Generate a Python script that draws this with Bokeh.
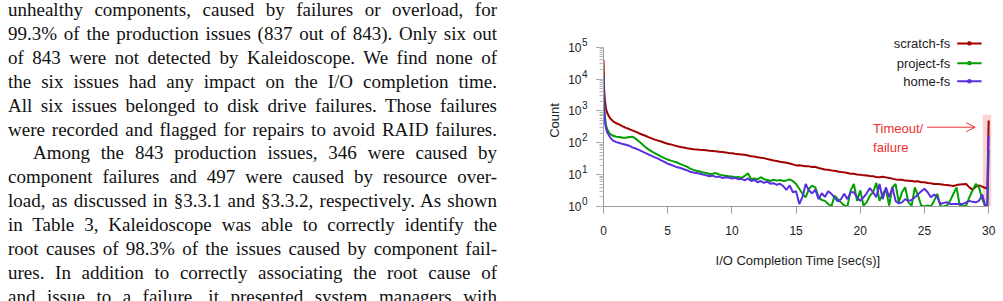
from bokeh.plotting import figure
from bokeh.models import (Range1d, FixedTicker, LogTicker, CustomJSTickFormatter,
                          Arrow, OpenHead, Div, LogAxis)
from bokeh.layouts import row
from bokeh.embed import file_html
from bokeh.resources import INLINE
from bokeh.core.properties import value

# ---------------- data ----------------
TIME = [0, 0.05, 0.1, 0.2, 0.3, 0.5] + [round(0.75 + 0.25 * i, 2) for i in range(117)] + [29.9, 30.0]

SCRATCH = [40000, 4900, 2400, 1150, 850, 600,
           470,
           410, 370, 330, 295,
           270, 245, 224, 200,
           182, 166, 151, 138,
           126, 117, 110, 100,
           93, 89, 83, 78,
           74, 71, 67, 65,
           63, 62, 60, 59,
           58, 56, 55, 54,
           52, 51, 50, 48,
           47, 45, 44, 43,
           42, 40, 38, 37,
           35, 34, 33, 31,
           29.5, 28, 27, 25.5,
           24.5, 23.5, 22.4, 21,
           19.5, 19.8, 19, 18.4,
           18.2, 17.5, 17.6, 16.2,
           15.3, 14.6, 14.3, 13.6,
           13.3, 12.6, 12.1, 11.8,
           11.2, 10.6, 10.6, 10.1,
           10.0, 9.5, 9.4, 9.0,
           8.9, 8.5, 8.3, 8.6,
           8.2, 7.8, 7.5, 7.1,
           6.9, 6.9, 6.5, 6.4,
           6.3, 6.1, 6.2, 5.8,
           5.8, 5.5, 5.4, 5.1,
           5.1, 5.0, 4.8, 4.7,
           4.6, 4.4, 4.7, 4.9,
           5.0, 5.1, 4.0, 3.4,
           4.2, 4.6, 4.2, 3.8,
           3.7, 500]

PROJECT = [11200, 2500, 710, 347, 263, 190,
           166,
           155, 151, 145, 144,
           151, 155, 135, 112,
           91, 74, 62, 54,
           47, 42, 37, 33,
           30, 27.5, 25.7, 24,
           21.4, 19.5, 17.8, 15.5,
           14.1, 13.2, 12.6, 11.7,
           11.2, 10.5, 10.7, 11.2,
           10.2, 9.5, 9.3, 8.9,
           8.7, 8.3, 8.5, 7.9,
           9.1, 11, 7.2, 7.6,
           7.1, 8.3, 7.2, 6.8,
           6.3, 6.9, 6.5, 6.8,
           6.3, 6.6, 7.1, 6.3,
           5.1, 3.6, 2.5, 1.95,
           3.6, 4.5, 4.0, 1.95,
           1.6, 1.5, 1.2, 1,
           2.2, 1.7, 1.35, 1.07,
           1, 3.2, 5.1, 1.5,
           3.2, 1.07, 1.35, 2.2,
           2.8, 5.5, 1.5, 2.5,
           3.5, 1.07, 4.0, 5.1,
           1.35, 2.8, 4.0, 1.35,
           1.07, 4.0, 2.2, 1.07,
           1, 1.07, 1, 1.5,
           2.5, 1, 1, 1.07,
           1.5, 2.5, 4.0, 1.07,
           1, 1.07, 1.95, 3.2,
           5.1, 4.0, 1.7, 1,
           1, 60]

HOME = [12600, 1150, 500, 275, 209, 151,
        117,
        105, 98, 91, 87,
        81, 72, 66, 60,
        54, 48, 43, 39,
        35, 32, 28, 25,
        22, 20.4, 18.6, 17,
        16.2, 14.8, 13.8, 12.3,
        11.7, 11.2, 10.7, 10,
        9.5, 8.9, 9.3, 8.5,
        8.7, 7.9, 8.3, 8.1,
        7.6, 7.9, 7.2, 7.4,
        6.6, 7.6, 6.3, 6.8,
        5.8, 6.3, 5.5, 6.0,
        5.2, 5.4, 4.8, 5.2,
        4.4, 3.3, 4.6, 2.8,
        3.0, 1.2, 2.0, 5.1,
        3.2, 2.6, 3.4, 1.7,
        2.6, 2.0, 3.0, 2.5,
        1.9, 1.45, 1.7, 2.5,
        1.7, 2.8, 2.8, 1.95,
        1.5, 1.95, 2.6, 3.8,
        2.8, 1.95, 5.1, 1.7,
        4.0, 1.95, 4.0, 1.5,
        1.25, 1.35, 1.7, 1.5,
        1.6, 1.95, 2.4, 3.0,
        3.6, 2.8, 1.95, 2.4,
        1.95, 1.2, 1.3, 1.35,
        1.2, 1.2, 1.2, 1.2,
        1.2, 1.35, 1.5, 1.4,
        1.35, 1.5, 2.4, 1,
        1, 170]

SERIES_NAMES = ["scratch-fs", "project-fs", "home-fs"]
SERIES_COLORS = ["#a00000", "#00a000", "#5a2fe0"]
X_TICKS = [0, 5, 10, 15, 20, 25, 30]
TIMEOUT_BAND = (29.55, 30.2, 1, 760)   # left, right, bottom, top
ANNOT_TEXT = ["Timeout/", "failure"]

TEXT_LINES = [
    "unhealthy components, caused by failures or overload, for",
    "99.3% of the production issues (837 out of 843). Only six out",
    "of 843 were not detected by Kaleidoscope. We find none of",
    "the six issues had any impact on the I/O completion time.",
    "All six issues belonged to disk drive failures. Those failures",
    "were recorded and flagged for repairs to avoid RAID failures.",
    "Among the 843 production issues, 346 were caused by",
    "component failures and 497 were caused by resource over-",
    "load, as discussed in &sect;3.3.1 and &sect;3.3.2, respectively. As shown",
    "in Table 3, Kaleidoscope was able to correctly identify the",
    "root causes of 98.3% of the issues caused by component fail-",
    "ures. In addition to correctly associating the root cause of",
    "and issue to a failure, it presented system managers with",
]

# ---------------- text column ----------------
parts = []
for i, ln in enumerate(TEXT_LINES):
    indent = "text-indent:25px;" if i == 6 else ""
    parts.append(f'<div style="text-align:justify;text-align-last:justify;{indent}">{ln}</div>')
html = ('<div style="font-family:\'Liberation Serif\',serif;font-size:19px;line-height:23.9px;'
        'color:#111;width:489px;margin:-2px 0 0 8px;">' + "".join(parts) + '</div>')
div = Div(text=html, width=500, height=301, margin=0, styles={"overflow": "hidden"})

# ---------------- chart ----------------
p = figure(width=503, height=301, x_range=Range1d(0, 30.3), y_range=Range1d(1, 10 ** 5.4),
           y_axis_type="log", output_backend="svg", toolbar_location=None,
           min_border_left=103, min_border_right=11, min_border_top=34, min_border_bottom=95)
p.outline_line_color = None
p.grid.visible = False
p.background_fill_color = "white"
p.border_fill_color = "white"

p.quad(left=[TIMEOUT_BAND[0]], right=[TIMEOUT_BAND[1]], bottom=[TIMEOUT_BAND[2]], top=[TIMEOUT_BAND[3]],
       fill_color="#f9d2d2", line_color=None)

for ys, c in [(SCRATCH, SERIES_COLORS[0]), (PROJECT, SERIES_COLORS[1]), (HOME, SERIES_COLORS[2])]:
    p.line(TIME, ys, line_color=c, line_width=2)

# legend (label right-aligned, sample line to its right)
LEG_Y = [10 ** 5.12, 10 ** 4.50, 10 ** 3.93]
p.text(x=[27.0] * 3, y=LEG_Y, text=SERIES_NAMES, text_align="right", text_baseline="middle",
       text_font=value("Liberation Sans"), text_font_size="13px", text_color="#222222")
p.segment(x0=[27.55] * 3, x1=[29.45] * 3, y0=LEG_Y, y1=LEG_Y, line_color=SERIES_COLORS, line_width=2)
p.scatter(x=[28.5] * 3, y=LEG_Y, marker="square", size=3, color=SERIES_COLORS)

# timeout annotation
p.text(x=[21.0, 21.0], y=[10 ** 2.46, 10 ** 1.86], text=ANNOT_TEXT, text_align="left",
       text_baseline="middle", text_font=value("Liberation Sans"), text_font_size="13px",
       text_color="#f03030")
p.add_layout(Arrow(end=OpenHead(size=9, line_color="#f03030", line_width=1),
                   x_start=25.2, y_start=10 ** 2.49, x_end=28.95, y_end=10 ** 2.49,
                   line_color="#f03030", line_width=1))

# x axis
xa = p.xaxis[0]
xa.ticker = FixedTicker(ticks=X_TICKS)
xa.bounds = (0, 30)
xa.axis_label = "I/O Completion Time [sec(s)]"
xa.major_label_standoff = 12
xa.axis_label_standoff = 15

# inner y axis: line, ticks and the raised exponents (two-line label: exponent above a blank line)
ya = p.yaxis[0]
ya.bounds = (1, 1e5)
ya.ticker = LogTicker(num_minor_ticks=10)
ya.formatter = CustomJSTickFormatter(code='return String(Math.round(Math.log10(tick))) + "\\n ";')
ya.major_label_text_font_size = "10px"
ya.major_label_text_line_height = 0.9
ya.major_label_standoff = 9

# outer y axis: the "10" mantissas and the axis title
ya2 = LogAxis(bounds=(1, 1e5), ticker=LogTicker(num_minor_ticks=10),
              formatter=CustomJSTickFormatter(code='return "10";'))
ya2.axis_line_color = None
ya2.major_tick_line_color = None
ya2.minor_tick_line_color = None
ya2.major_tick_out = 0
ya2.minor_tick_out = 0
ya2.major_label_standoff = -3
ya2.axis_label = "Count"
ya2.axis_label_standoff = 3
p.add_layout(ya2, "left")

for ax in (xa, ya, ya2):
    if ax is not ya2:
        ax.axis_line_color = "#9a9a9a"
        ax.major_tick_line_color = "#9a9a9a"
        ax.minor_tick_line_color = "#b5b5b5"
        ax.major_tick_in = 0
        ax.major_tick_out = 7
        ax.minor_tick_in = 0
        ax.minor_tick_out = 4
    ax.major_label_text_font = "Liberation Sans"
    if ax is not ya:
        ax.major_label_text_font_size = "12px"
    ax.major_label_text_color = "#222222"
    ax.axis_label_text_font = "Liberation Sans"
    ax.axis_label_text_font_size = "13px"
    ax.axis_label_text_font_style = "normal"
    ax.axis_label_text_color = "#222222"

layout = row(div, p, spacing=0)
with open("out.html", "w", encoding="utf-8") as f:
    f.write(file_html(layout, INLINE))
